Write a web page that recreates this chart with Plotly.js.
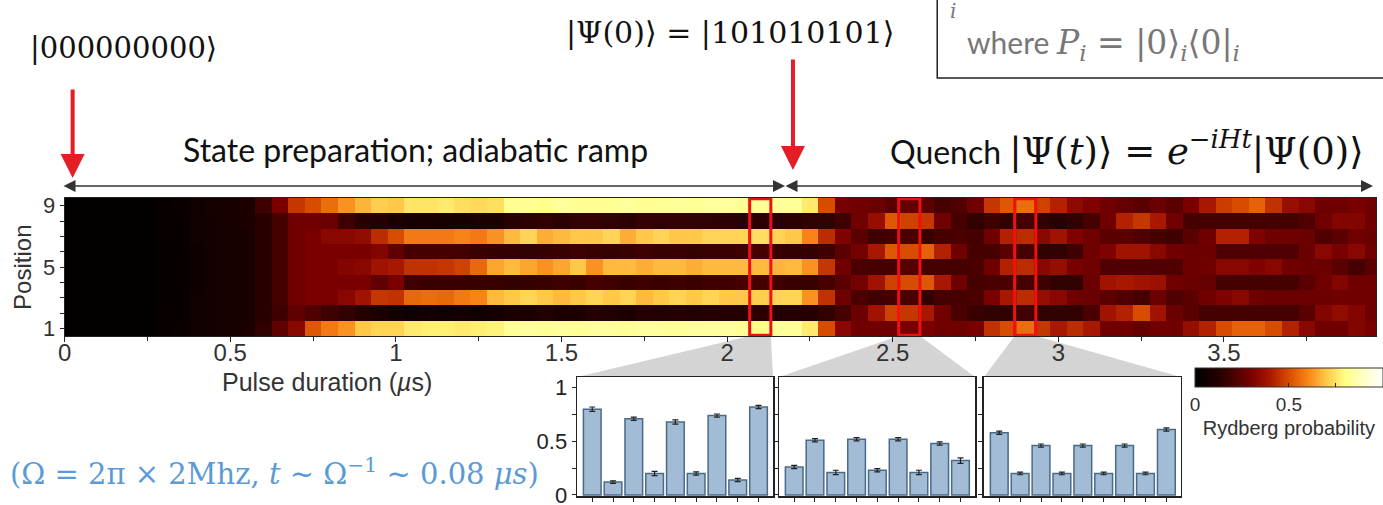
<!DOCTYPE html>
<html><head><meta charset="utf-8">
<script src="https://cdn.plot.ly/plotly-3.0.1.min.js"></script>
<style>html,body{margin:0;padding:0;background:#fff;overflow:hidden}#chart{width:1383px;height:505px}</style>
</head><body><div id="chart"></div>
<script>
// ---- data ----
const times = [0,0.05,0.1,0.15,0.2,0.25,0.3,0.35,0.4,0.45,0.5,0.55,0.6,0.65,0.7,0.75,0.8,0.85,0.9,0.95,
 1,1.05,1.1,1.15,1.2,1.25,1.3,1.35,1.4,1.45,1.5,1.55,1.6,1.65,1.7,1.75,1.8,1.85,1.9,1.95,
 2,2.05,2.1,2.15,2.2,2.25,2.3,2.35,2.4,2.45,2.5,2.55,2.6,2.65,2.7,2.75,2.8,2.85,2.9,2.95,
 3,3.05,3.1,3.15,3.2,3.25,3.3,3.35,3.4,3.45,3.5,3.55,3.6,3.65,3.7,3.75,3.8,3.85,3.9,3.95];
const positions = [1,2,3,4,5,6,7,8,9];

const pos1 = [0.01,0.01,0.01,0.01,0.01,0.01,0.03,0.04,0.06,0.07,0.08,0.10,
 0.15,0.25,0.33,0.52,0.58,0.62,0.70,0.72,
 0.72,0.76,0.77,0.77,0.76,0.77,0.78,0.82,0.83,0.82,0.83,0.82,0.83,0.83,0.82,0.83,0.83,0.82,0.83,0.83,
 0.83,0.82,0.80,0.83,0.82,0.76,0.50,0.33,0.28,0.28,0.28,0.30,0.30,0.28,0.28,0.30,0.45,0.50,0.56,0.46,
 0.40,0.44,0.40,0.28,0.28,0.26,0.28,0.28,0.36,0.42,0.50,0.54,0.54,0.50,0.42,0.33,0.28,0.28,0.32,0.30];
const pos2 = [0.01,0.01,0.01,0.01,0.01,0.01,0.03,0.03,0.06,0.07,0.08,0.09,
 0.13,0.18,0.25,0.22,0.18,0.15,0.12,0.10,
 0.07,0.06,0.07,0.06,0.07,0.06,0.07,0.10,0.10,0.11,0.10,0.10,0.12,0.11,0.10,0.12,0.11,0.12,0.11,0.12,
 0.12,0.12,0.14,0.12,0.12,0.12,0.15,0.20,0.27,0.38,0.48,0.46,0.40,0.28,0.21,0.17,0.15,0.15,0.19,0.15,
 0.15,0.15,0.21,0.38,0.42,0.50,0.38,0.27,0.24,0.20,0.20,0.20,0.20,0.20,0.20,0.24,0.32,0.35,0.32,0.28];
const pos3 = [0.01,0.01,0.01,0.01,0.01,0.01,0.02,0.03,0.06,0.07,0.08,0.09,
 0.13,0.20,0.28,0.30,0.30,0.33,0.38,0.46,
 0.45,0.55,0.56,0.55,0.58,0.60,0.68,0.70,0.72,0.70,0.68,0.70,0.72,0.70,0.72,0.68,0.70,0.72,0.70,0.72,
 0.70,0.70,0.71,0.72,0.72,0.62,0.45,0.28,0.21,0.18,0.20,0.21,0.15,0.19,0.20,0.21,0.30,0.40,0.44,0.36,
 0.33,0.28,0.27,0.24,0.22,0.20,0.27,0.22,0.24,0.28,0.31,0.33,0.28,0.27,0.27,0.27,0.27,0.28,0.28,0.28];
const pos4 = [0.01,0.01,0.01,0.01,0.01,0.01,0.02,0.03,0.05,0.07,0.08,0.09,
 0.13,0.20,0.28,0.30,0.30,0.30,0.30,0.25,
 0.30,0.18,0.17,0.17,0.17,0.17,0.17,0.15,0.16,0.17,0.18,0.17,0.20,0.18,0.17,0.18,0.17,0.18,0.17,0.18,
 0.18,0.20,0.20,0.18,0.17,0.17,0.20,0.24,0.29,0.38,0.48,0.50,0.52,0.40,0.28,0.20,0.21,0.21,0.20,0.18,
 0.15,0.15,0.27,0.38,0.40,0.38,0.37,0.28,0.27,0.26,0.20,0.20,0.20,0.20,0.20,0.24,0.28,0.32,0.28,0.28];
const pos5 = [0.01,0.01,0.01,0.01,0.01,0.01,0.02,0.03,0.05,0.07,0.08,0.09,
 0.13,0.20,0.28,0.30,0.30,0.32,0.33,0.38,
 0.40,0.45,0.45,0.46,0.48,0.55,0.65,0.68,0.65,0.62,0.65,0.70,0.62,0.68,0.68,0.66,0.68,0.68,0.66,0.68,
 0.68,0.68,0.68,0.67,0.68,0.62,0.46,0.28,0.21,0.20,0.20,0.23,0.20,0.20,0.20,0.21,0.28,0.42,0.44,0.33,
 0.36,0.30,0.28,0.22,0.22,0.22,0.22,0.22,0.27,0.28,0.33,0.33,0.31,0.33,0.28,0.27,0.27,0.24,0.20,0.24];
const pos6 = [0.01,0.01,0.01,0.01,0.01,0.01,0.02,0.03,0.05,0.07,0.08,0.09,
 0.13,0.20,0.28,0.30,0.30,0.30,0.30,0.32,
 0.25,0.20,0.20,0.20,0.19,0.17,0.16,0.16,0.15,0.16,0.17,0.18,0.17,0.16,0.17,0.18,0.17,0.17,0.16,0.17,
 0.17,0.18,0.20,0.17,0.16,0.15,0.18,0.24,0.29,0.40,0.52,0.50,0.54,0.42,0.28,0.20,0.20,0.24,0.20,0.15,
 0.15,0.18,0.28,0.31,0.38,0.38,0.33,0.28,0.27,0.27,0.22,0.22,0.22,0.22,0.22,0.27,0.33,0.30,0.33,0.28];
const pos7 = [0.01,0.01,0.01,0.01,0.01,0.01,0.02,0.03,0.06,0.07,0.08,0.09,
 0.13,0.20,0.28,0.30,0.33,0.33,0.35,0.44,
 0.50,0.58,0.58,0.58,0.60,0.58,0.62,0.68,0.72,0.66,0.68,0.70,0.70,0.72,0.66,0.70,0.72,0.70,0.70,0.72,
 0.72,0.72,0.74,0.72,0.70,0.60,0.44,0.31,0.24,0.18,0.20,0.21,0.17,0.20,0.21,0.20,0.28,0.42,0.44,0.33,
 0.38,0.31,0.28,0.24,0.24,0.22,0.20,0.18,0.24,0.28,0.42,0.42,0.31,0.28,0.28,0.27,0.22,0.24,0.28,0.27];
const pos8 = [0.01,0.01,0.01,0.01,0.01,0.01,0.03,0.03,0.06,0.07,0.08,0.10,
 0.13,0.20,0.28,0.28,0.27,0.18,0.13,0.12,
 0.10,0.09,0.09,0.08,0.09,0.10,0.10,0.13,0.14,0.15,0.14,0.15,0.16,0.15,0.14,0.16,0.15,0.16,0.15,0.15,
 0.14,0.13,0.14,0.13,0.14,0.15,0.15,0.18,0.28,0.36,0.52,0.48,0.46,0.28,0.20,0.15,0.18,0.15,0.20,0.15,
 0.13,0.15,0.20,0.28,0.42,0.46,0.40,0.28,0.20,0.20,0.20,0.20,0.20,0.20,0.20,0.22,0.28,0.32,0.32,0.28];
const pos9 = [0.01,0.01,0.01,0.01,0.01,0.01,0.03,0.04,0.06,0.08,0.09,0.10,
 0.18,0.30,0.46,0.50,0.56,0.62,0.67,0.71,
 0.70,0.75,0.75,0.76,0.74,0.73,0.74,0.82,0.82,0.81,0.83,0.82,0.82,0.82,0.83,0.82,0.82,0.83,0.82,0.83,
 0.83,0.82,0.82,0.83,0.82,0.76,0.50,0.29,0.28,0.27,0.24,0.26,0.24,0.20,0.22,0.28,0.46,0.52,0.56,0.48,
 0.42,0.34,0.31,0.28,0.26,0.24,0.27,0.24,0.30,0.40,0.47,0.50,0.54,0.45,0.36,0.33,0.28,0.28,0.30,0.28];

const highlightTimes = [2.1, 2.55, 2.9];
const barsA = [0.80,0.12,0.71,0.20,0.68,0.20,0.74,0.14,0.82];
const barsB = [0.26,0.51,0.21,0.52,0.23,0.52,0.21,0.48,0.32];
const barsC = [0.58,0.20,0.46,0.20,0.46,0.20,0.46,0.20,0.61];
const errA = [0.02,0.012,0.015,0.02,0.02,0.015,0.015,0.015,0.015];
const errB = [0.015,0.015,0.02,0.015,0.015,0.015,0.02,0.015,0.025];
const errC = [0.015,0.012,0.015,0.012,0.015,0.012,0.015,0.012,0.015];

const xTickVals = [0,0.5,1,1.5,2,2.5,3,3.5];
const xTickText = ['0','0.5','1','1.5','2','2.5','3','3.5'];
const xMinorVals = [0.25,0.75,1.25,1.75,2.25,2.75,3.25,3.75];
const yTickText = ['1','','','','5','','','','9'];
const barYTicks = [0,0.25,0.5,0.75,1];
const barYText = ['0','','0.5','','1'];

// ---- geometry ----
const W = 1383, H = 505;
const px = v => v / W, py = v => 1 - v / H;
const hmDomX = [px(65), 1], hmDomY = [py(336), py(198)], hmRange = [0, 3.959];
const insetPix = [[580, 777], [783, 980], [989, 1187]];
const insetDomY = [py(496), py(377)];
const halfBox = 0.032;
const tToPaper = t => hmDomX[0] + (t - hmRange[0]) / (hmRange[1] - hmRange[0]) * (hmDomX[1] - hmDomX[0]);

const SANS = 'Liberation Sans, Arial, sans-serif';
const MATH = 'DejaVu Serif, serif';
const TXT = 'Lato, Carlito, sans-serif';

const colorscale = [[0,'#000000'],[0.1,'#1c0000'],[0.2,'#460000'],[0.3,'#7a0000'],[0.4,'#a81800'],
  [0.5,'#d84c00'],[0.6,'#f88418'],[0.7,'#ffc848'],[0.8,'#ffff88'],[0.9,'#ffffc8'],[1,'#ffffff']];

const traces = [{
  type: 'heatmap', x: times, y: positions,
  z: [pos1, pos2, pos3, pos4, pos5, pos6, pos7, pos8, pos9],
  zmin: 0, zmax: 1, colorscale: colorscale, xaxis: 'x', yaxis: 'y', hoverinfo: 'skip',
  colorbar: {
    orientation: 'h', x: px(1201), xanchor: 'left', y: py(368), yanchor: 'top',
    len: 188, lenmode: 'pixels', thickness: 19, thicknessmode: 'pixels', xpad: 0, ypad: 0,
    outlinewidth: 1, outlinecolor: '#333',
    tickvals: [0, 0.25, 0.5, 0.75, 1], ticktext: ['0', '', '0.5', '', '1'],
    ticks: 'inside', ticklen: 4, tickcolor: '#222',
    tickfont: {family: SANS, size: 19, color: '#333'},
    title: {text: 'Rydberg probability', side: 'bottom', font: {family: SANS, size: 20, color: '#333'}}
  }
}];
const barSets = [barsA, barsB, barsC], errSets = [errA, errB, errC];
barSets.forEach((b, i) => {
  traces.push({
    type: 'bar', x: positions, y: b, width: 0.85,
    error_y: {type: 'data', array: errSets[i], color: '#222', thickness: 1.2, width: 3},
    marker: {color: '#a3bcd5', line: {color: '#4a6a8a', width: 1.5}},
    xaxis: 'x' + (i + 2), yaxis: 'y' + (i + 2), showlegend: false, hoverinfo: 'skip'
  });
});

const layout = {
  width: W, height: H, margin: {l: 0, r: 0, t: 0, b: 0},
  paper_bgcolor: '#fff', plot_bgcolor: '#fff', showlegend: false,
  xaxis: {domain: hmDomX, range: hmRange, anchor: 'y', tickvals: xTickVals, ticktext: xTickText,
    ticks: 'outside', ticklen: 5, tickcolor: '#222', showline: true, linecolor: '#222', mirror: true,
    ticklabelstandoff: -10,
    showgrid: false, zeroline: false, tickfont: {family: SANS, size: 24, color: '#333'},
    minor: {tickvals: xMinorVals, ticks: 'outside', ticklen: 4, tickcolor: '#222'}},
  yaxis: {domain: hmDomY, range: [0.5, 9.5], anchor: 'x', tickvals: positions, ticktext: yTickText,
    ticks: 'outside', ticklen: 4, tickcolor: '#222', showline: true, linecolor: '#222', mirror: true,
    showgrid: false, zeroline: false, tickfont: {family: SANS, size: 22, color: '#333'}},
  shapes: [], annotations: []
};
insetPix.forEach((p, i) => {
  const n = i + 2;
  layout['xaxis' + n] = {domain: [px(p[0]), px(p[1])], range: [0.27, 9.7], anchor: 'y' + n,
    tickvals: positions, showticklabels: false, ticks: 'outside', ticklen: 4, tickcolor: '#222',
    showline: true, linecolor: '#222', linewidth: 1.5, mirror: true, showgrid: false, zeroline: false};
  layout['yaxis' + n] = {domain: insetDomY, range: [-0.01, 1.1], anchor: 'x' + n,
    tickvals: barYTicks, ticktext: barYText, showticklabels: i === 0, ticks: 'outside', ticklen: 4,
    ticklabeloverflow: 'allow',
    tickcolor: '#222', showline: true, linecolor: '#222', linewidth: 1.5, mirror: true,
    showgrid: false, zeroline: false, tickfont: {family: SANS, size: 22, color: '#222'}};
});

// highlight boxes and zoom wedges
highlightTimes.forEach((t, i) => {
  layout.shapes.push({type: 'rect', xref: 'x', yref: 'y', x0: t - halfBox, x1: t + halfBox, y0: 0.55, y1: 9.45,
    line: {color: '#f01010', width: 3}, layer: 'above'});
  const l = tToPaper(t - halfBox), r = tToPaper(t + halfBox);
  const il = px(insetPix[i][0]), ir = px(insetPix[i][1]);
  layout.shapes.push({type: 'path', xref: 'paper', yref: 'paper', layer: 'below',
    path: `M${l},${hmDomY[0]} L${r},${hmDomY[0]} L${ir},${insetDomY[1]} L${il},${insetDomY[1]} Z`,
    fillcolor: '#d4d4d4', line: {width: 0}});
});
// top-right box
layout.shapes.push({type: 'rect', xref: 'paper', yref: 'paper', x0: px(942), x1: 1.02, y0: py(78), y1: 1.05,
  line: {color: '#222', width: 1.5}, fillcolor: 'rgba(0,0,0,0)'});

const A = layout.annotations;
function txt(text, x, y, size, family, color, xanchor, extra) {
  A.push(Object.assign({text: text, xref: 'paper', yref: 'paper', x: px(x), y: py(y), showarrow: false,
    xanchor: xanchor || 'left', yanchor: 'middle', font: {family: family, size: size, color: color || '#111'}}, extra || {}));
}
txt('|000000000⟩', 28, 48, 29, MATH, '#111');
txt('|Ψ(0)⟩ = |101010101⟩', 567, 32, 30, MATH, '#111');
txt('State preparation; adiabatic ramp', 182, 149, 32, TXT, '#111');
txt('Quench <span style="font-family:DejaVu Serif;font-size:37px">|Ψ(<i>t</i>)⟩ = <i>e</i><sup>−<i>iHt</i></sup>|Ψ(0)⟩</span>', 893, 148, 32, TXT, '#111');
txt('where <span style="font-family:DejaVu Serif;font-size:33px"><i>P<sub>i</sub></i> = |0⟩<sub><i>i</i></sub>⟨0|<sub><i>i</i></sub></span>', 970, 45, 30, TXT, '#777');
txt('<i>i</i>', 958, 11, 20, MATH, '#777', 'center');
txt('(Ω = 2π × 2Mhz, <i>t</i> ~ Ω<sup>−1</sup> ~ 0.08 <i>μs</i>)', 8, 472, 29, MATH, '#5b9bd5');
txt('Pulse duration (<i>µ</i>s)', 329, 382, 25, SANS, '#333', 'center');
txt('Position', 22, 267, 24, SANS, '#333', 'center', {textangle: -90});

// arrows
function arrow(xh, yh, xt, yt, color, width, both) {
  A.push({text: '', xref: 'paper', yref: 'paper', x: px(xh), y: py(yh), ax: xt - xh, ay: yt - yh,
    showarrow: true, arrowhead: 2, startarrowhead: 2, arrowsize: both ? 1.6 : 1.2, startarrowsize: 1.6,
    arrowwidth: width, arrowcolor: color, arrowside: both ? 'end+start' : 'end', standoff: 0, startstandoff: 0});
}
arrow(73, 178, 73, 88, '#e31e24', 4, false);
arrow(797, 170, 797, 58, '#e31e24', 4, false);
arrow(789, 186, 66, 186, '#333', 1.5, true);
arrow(1380, 186, 791, 186, '#333', 1.5, true);

Plotly.newPlot('chart', traces, layout, {staticPlot: true, displayModeBar: false});
</script></body></html>
